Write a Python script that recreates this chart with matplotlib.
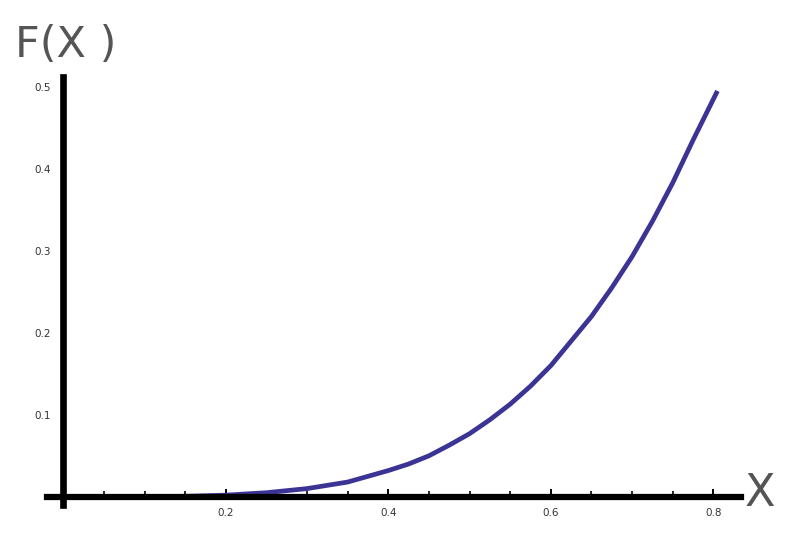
import matplotlib
matplotlib.use("Agg")
import matplotlib.pyplot as plt
from matplotlib.ticker import MultipleLocator

# values
x_vals = [0.0, 0.05, 0.1, 0.15, 0.2, 0.25, 0.3, 0.35, 0.4, 0.425, 0.45, 0.475,
          0.5, 0.525, 0.55, 0.575, 0.6, 0.625, 0.65, 0.675, 0.7, 0.725, 0.75,
          0.775, 0.805]
f_vals = [0.0, 0.0, 0.0002, 0.0006, 0.002, 0.005, 0.01, 0.018, 0.032, 0.04,
          0.05, 0.063, 0.077, 0.094, 0.113, 0.135, 0.16, 0.19, 0.22, 0.255,
          0.293, 0.336, 0.383, 0.435, 0.495]

x_ticks = [0.2, 0.4, 0.6, 0.8]
y_ticks = [0.1, 0.2, 0.3, 0.4, 0.5]

fig = plt.figure(figsize=(8, 5.38), dpi=100)
ax = fig.add_axes([47/800, 1-505/538, (741-47)/800, (505-77)/538])

ax.plot(x_vals, f_vals, color="#3b3494", lw=3.4, solid_capstyle="butt",
        solid_joinstyle="round")

ax.set_xlim(-0.02, 0.834)
ax.set_ylim(-0.01, 0.512)

for s in ["top", "right"]:
    ax.spines[s].set_visible(False)
ax.spines["left"].set_position(("data", 0))
ax.spines["bottom"].set_position(("data", 0))
ax.spines["left"].set_linewidth(4.8)
ax.spines["bottom"].set_linewidth(4.5)

ax.set_xticks(x_ticks)
ax.set_xticklabels([str(v) for v in x_ticks])
ax.xaxis.set_minor_locator(MultipleLocator(0.05))
ax.tick_params(axis="x", which="major", direction="in", length=6, width=1.4,
               labelsize=7.5, pad=8, colors="black", labelcolor="#333333")
ax.tick_params(axis="x", which="minor", direction="in", length=4.5, width=1.2)

ax.set_yticks(y_ticks)
ax.set_yticklabels([str(v) for v in y_ticks])
ax.tick_params(axis="y", length=0, labelsize=7.5, pad=9, labelcolor="#333333")

fig.text(15/800, 1-45/538, "F(X )", fontsize=31, color="#555555",
         va="center", ha="left")
fig.text(745/800, 1-494/538, "X", fontsize=32, color="#555555",
         va="center", ha="left")

fig.savefig("out.png", dpi=100)
